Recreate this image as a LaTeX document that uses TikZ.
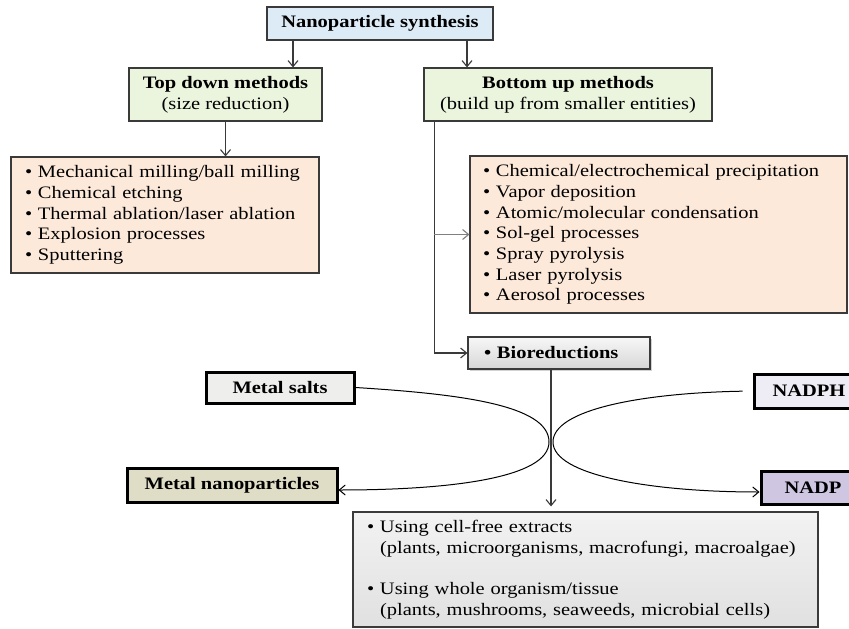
\documentclass[tikz,border=0pt]{standalone}
\usepackage{fontspec}
\setmainfont{Liberation Serif}[FakeStretch=1.17]
\usetikzlibrary{arrows.meta,shadows}
\definecolor{synblue}{HTML}{DDEBF6}
\definecolor{methgreen}{HTML}{EBF4DD}
\definecolor{listpeach}{HTML}{FCE9DA}
\definecolor{nanobeige}{HTML}{DFDDC6}
\definecolor{saltgray}{HTML}{EEEEEC}
\definecolor{nadphlav}{HTML}{EEECF4}
\definecolor{nadplav}{HTML}{CFC7E1}
\definecolor{edge}{HTML}{3A3A3A}
\begin{document}
\begin{tikzpicture}[x=1pt,y=-1pt,
  font=\fontsize{17.5}{20.7}\selectfont,
  box/.style={draw=edge,line width=1.2pt,inner sep=0pt,align=center},
  list/.style={box,fill=listpeach,align=left,inner xsep=14pt},
  thickbox/.style={draw=black,line width=3pt,inner sep=0pt,align=center,font=\fontsize{17.5}{20.7}\selectfont\bfseries},
  arr/.style={draw=edge,line width=1.1pt,-{Straight Barb[length=6pt,width=10pt]}}]
\useasboundingbox[fill=white] (0,0) rectangle (849,629);
\node[box,fill=synblue,minimum width=226pt,minimum height=33pt,font=\fontsize{17.5}{20.7}\selectfont\bfseries](syn) at (380,23.5){Nanoparticle synthesis};
\node[box,fill=methgreen,minimum width=193pt,minimum height=53pt](td) at (225.5,94.5){\textbf{Top down methods}\\(size reduction)};
\node[box,fill=methgreen,minimum width=288pt,minimum height=53pt](bu) at (568,94.5){\textbf{Bottom up methods}\\(build up from smaller entities)};
\node[list,text width=280pt,minimum height=116pt](tdl) at (165,215){\textbullet\ Mechanical milling/ball milling\\
  \textbullet\ Chemical etching\\ \textbullet\ Thermal ablation/laser ablation\\
  \textbullet\ Explosion processes\\ \textbullet\ Sputtering};
\node[list,inner xsep=13pt,text width=351pt,minimum height=157pt](bul) at (658.5,234.5){\textbullet\ Chemical/electrochemical precipitation\\
  \textbullet\ Vapor deposition\\ \textbullet\ Atomic/molecular condensation\\
  \textbullet\ Sol-gel processes\\ \textbullet\ Spray pyrolysis\\
  \textbullet\ Laser pyrolysis\\ \textbullet\ Aerosol processes};
\node[box,align=left,inner xsep=16pt,text width=150pt,minimum height=32pt,top color=gray!6,bottom color=gray!32,
  drop shadow={opacity=0.35,shadow xshift=1.5pt,shadow yshift=-1.5pt},font=\fontsize{17.5}{20.7}\selectfont\bfseries](bio) at (559,353){\textbullet\ Bioreductions};
\node[thickbox,fill=saltgray,minimum width=148pt,minimum height=31pt](ms) at (280,387.5){Metal salts};
\node[thickbox,fill=nanobeige,minimum width=210pt,minimum height=34pt](mn) at (232,485){Metal nanoparticles};
\node[thickbox,fill=nadphlav,minimum width=110pt,minimum height=34pt](nadph) at (809,391){NADPH};
\node[thickbox,fill=nadplav,minimum width=104pt,minimum height=33pt](nadp) at (813,487.5){NADP};
\node[box,align=left,inner xsep=14pt,text width=437pt,minimum height=115pt,top color=gray!10,bottom color=gray!24](use) at (585.5,569.5){\textbullet\ Using cell-free extracts\\
  \phantom{\textbullet}\ (plants, microorganisms, macrofungi, macroalgae)\\[20.7pt]
  \textbullet\ Using whole organism/tissue\\
  \phantom{\textbullet}\ (plants, mushrooms, seaweeds, microbial cells)};
% connectors
\draw[arr] ([xshift=-87pt]syn.south) -- ([xshift=67.5pt]td.north);
\draw[arr] ([xshift=87pt]syn.south) -- ([xshift=-101pt]bu.north);
\draw[arr] (td.south) -- (td.south |- tdl.north);
\coordinate (bus) at ([xshift=11pt]bu.south west);
\draw[arr] (bus) |- (bio.west);
\draw[arr,draw=gray] (bus |- bul.west) -- (bul.west);
\coordinate (bid) at ([xshift=-8pt]bio.south);
\draw[arr,shorten >=5pt] (bid) -- (bid |- use.north);
\coordinate (mL) at (549,442);
\coordinate (mR) at (553,442);
\draw[arr,draw=black,line width=1pt] (ms.east) .. controls (460,394) and (549,405) .. (mL)
  .. controls (549,478) and (450,490) .. ([yshift=-5pt]mn.east);
\draw[arr,draw=black,line width=1pt,shorten <=10pt] (nadph.west) .. controls (640,393) and (553,410) .. (mR)
  .. controls (553,475) and (650,492) .. ([yshift=-4.5pt]nadp.west);
\end{tikzpicture}
\end{document}
